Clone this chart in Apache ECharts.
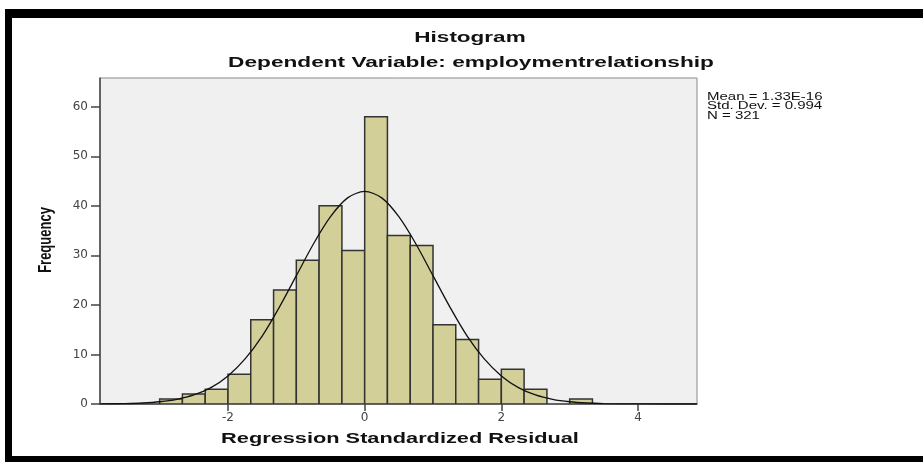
<!DOCTYPE html>
<html>
<head>
<meta charset="utf-8">
<script src="https://cdn.jsdelivr.net/npm/echarts@6/dist/echarts.min.js"></script>
<style>
html,body{margin:0;padding:0;background:#fff;}
#chart{width:923px;height:462px;}
</style>
</head>
<body>
<div id="chart"></div>
<script>
// ---- data ----
const binEdges = [-3, -2.667, -2.333, -2, -1.667, -1.333, -1, -0.667, -0.333, 0,
                  0.333, 0.667, 1, 1.333, 1.667, 2, 2.333, 2.667, 3, 3.333];
const binCounts = [1, 2, 3, 6, 17, 23, 29, 40, 31, 58, 34, 32, 16, 13, 5, 7, 3, 0, 1];
const curveX = [-3.87, -3.5, -3.25, -3, -2.75, -2.5, -2.25, -2, -1.75, -1.5, -1.25, -1, -0.75, -0.5, -0.25, 0,
                0.25, 0.5, 0.75, 1, 1.25, 1.5, 1.75, 2, 2.25, 2.5, 2.75, 3, 3.25, 3.5, 4, 4.86];
const curveY = [0.02, 0.09, 0.2, 0.45, 0.94, 1.82, 3.31, 5.67, 9.1, 13.7, 19.5, 25.9, 32.3, 37.8, 41.6, 42.9,
                41.6, 37.8, 32.3, 25.9, 19.5, 13.7, 9.1, 5.67, 3.31, 1.82, 0.94, 0.45, 0.2, 0.09, 0.01, 0];
const xTicks = [-2, 0, 2, 4];
const yTicks = [0, 10, 20, 30, 40, 50, 60];
const titleText = 'Histogram';
const subtitleText = 'Dependent Variable: employmentrelationship';
const xName = 'Regression Standardized Residual';
const yName = 'Frequency';
const statsLines = ['Mean = 1.33E-16', 'Std. Dev. = 0.994', 'N = 321'];

// ---- build ----
const histData = binCounts.map((c, i) => [binEdges[i], binEdges[i + 1], c]);
const curveData = curveX.map((x, i) => [x, curveY[i]]);

const chart = echarts.init(document.getElementById('chart'), null, {renderer: 'canvas'});
const ff = '"Liberation Sans", Arial, sans-serif';

function stretchedText(text, x, y, opts) {
  return Object.assign({
    type: 'text', x: x, y: y, scaleX: 1.5, z: 10,
    style: {text: text, x: 0, y: 0, align: 'center', verticalAlign: 'middle',
            font: 'bold 15px ' + ff, fill: '#111'}
  }, opts || {});
}

const graphics = [
  // black frame bands
  {type: 'rect', shape: {x: 5, y: 9, width: 918, height: 9}, style: {fill: '#000'}, z: 10},
  {type: 'rect', shape: {x: 5, y: 9, width: 7, height: 453}, style: {fill: '#000'}, z: 10},
  {type: 'rect', shape: {x: 5, y: 456, width: 918, height: 6}, style: {fill: '#000'}, z: 10},
  stretchedText(titleText, 470, 37.5),
  stretchedText(subtitleText, 471, 63, {scaleX: 1.51}),
  stretchedText(xName, 400, 438.5, {scaleX: 1.45}),
  {
    type: 'text', x: 46, y: 240, rotation: Math.PI / 2, scaleY: 1.45, z: 10,
    style: {text: yName, x: 0, y: 0, align: 'center', verticalAlign: 'middle',
            font: 'bold 13px ' + ff, fill: '#111'}
  }
];
statsLines.forEach((t, i) => {
  graphics.push({
    type: 'text', x: 707, y: 97 + i * 9.5, scaleX: 1.5, z: 10,
    style: {text: t, x: 0, y: 0, align: 'left', verticalAlign: 'middle',
            font: '10px ' + ff, fill: '#111'}
  });
});

const option = {
  animation: false,
  backgroundColor: '#fff',
  grid: {left: 100, right: 226, top: 78, bottom: 58, show: true,
         backgroundColor: '#f0f0f0', borderColor: '#8a8a8a', borderWidth: 1},
  xAxis: {
    type: 'value', min: -3.873, max: 4.863,
    axisLine: {show: true, onZero: false, lineStyle: {color: '#444', width: 1.5}},
    axisTick: {show: true, customValues: xTicks, length: 7, lineStyle: {color: '#444', width: 1.5}},
    axisLabel: {customValues: xTicks, margin: 8, fontSize: 12, color: '#444',
                fontFamily: '"DejaVu Sans", sans-serif'},
    splitLine: {show: false}
  },
  yAxis: {
    type: 'value', min: 0, max: 65.8,
    axisLine: {show: true, onZero: false, lineStyle: {color: '#444', width: 1.5}},
    axisTick: {show: true, customValues: yTicks, length: 9, lineStyle: {color: '#444', width: 1.5}},
    axisLabel: {customValues: yTicks, margin: 12, fontSize: 12, color: '#444',
                fontFamily: '"DejaVu Sans", sans-serif'},
    splitLine: {show: false}
  },
  graphic: graphics,
  series: [
    {
      type: 'custom',
      data: histData,
      encode: {x: [0, 1], y: 2},
      clip: true,
      renderItem: function (params, api) {
        const c = api.value(2);
        if (!c) return null;
        const p0 = api.coord([api.value(0), c]);
        const p1 = api.coord([api.value(1), 0]);
        return {
          type: 'rect',
          shape: {x: p0[0], y: p0[1], width: p1[0] - p0[0], height: p1[1] - p0[1]},
          style: {fill: '#d3cf98', stroke: '#333', lineWidth: 1.5}
        };
      },
      z: 2
    },
    {
      type: 'line',
      data: curveData,
      smooth: 0.3,
      showSymbol: false,
      symbol: 'none',
      lineStyle: {color: '#111', width: 1.3},
      z: 5
    }
  ]
};
chart.setOption(option);
</script>
</body>
</html>
